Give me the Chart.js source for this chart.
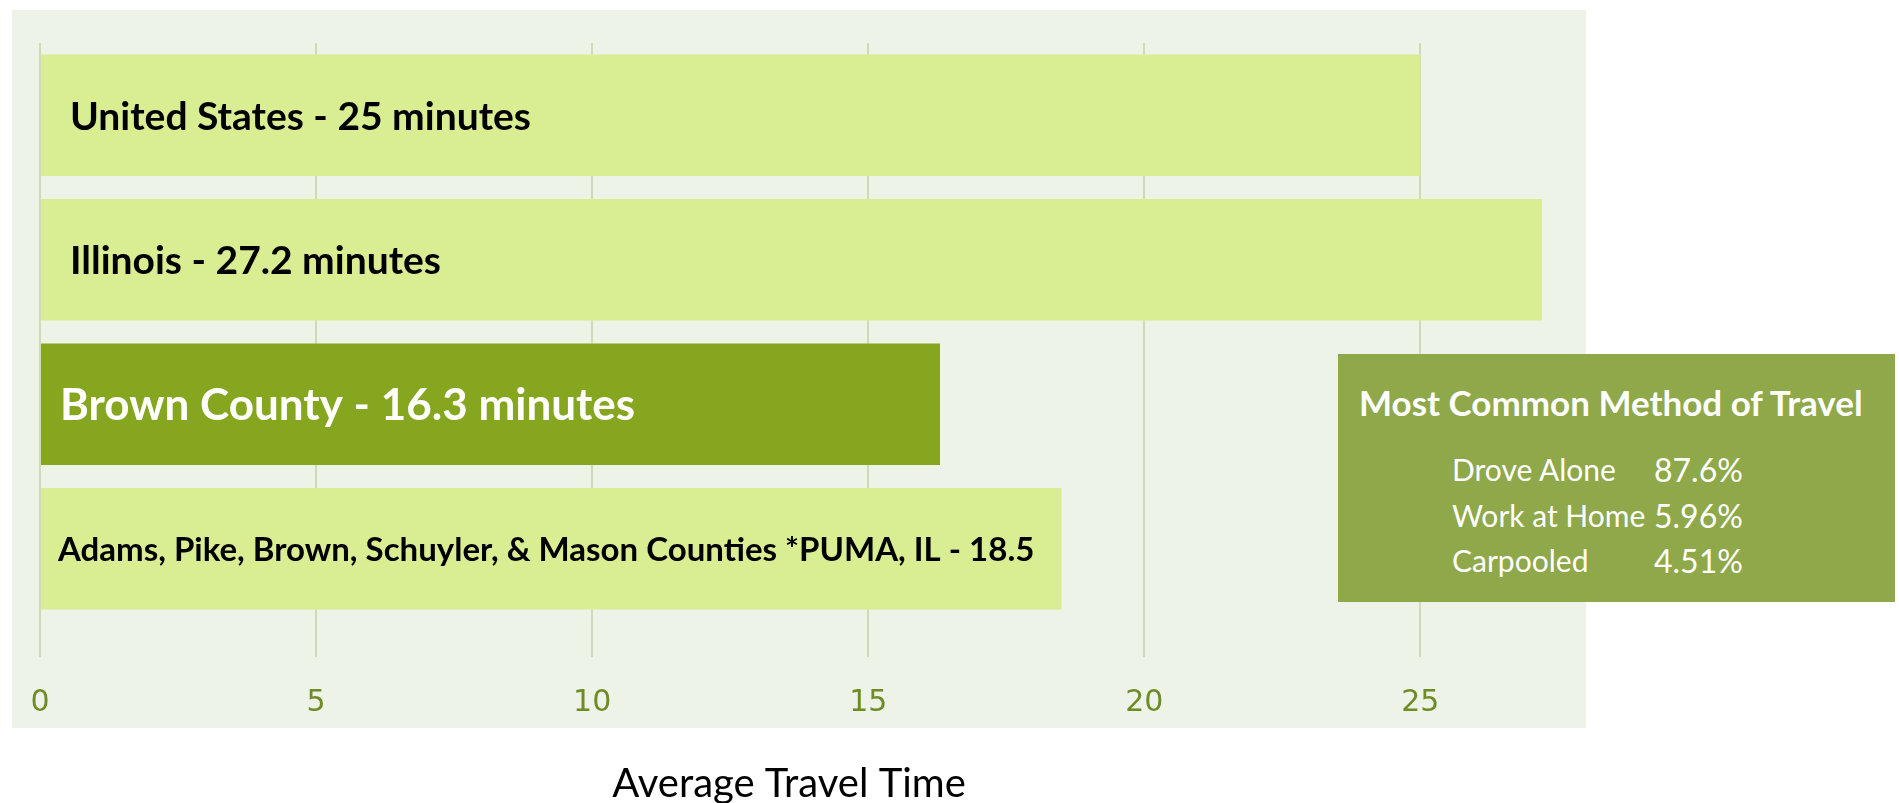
<!DOCTYPE html>
<html>
<head>
<meta charset="utf-8">
<script src="https://cdn.jsdelivr.net/npm/chart.js@4.4.0/dist/chart.umd.min.js"></script>
<style>
html, body { margin: 0; padding: 0; background: #ffffff; }
#wrap { position: relative; width: 1899px; height: 803px; overflow: hidden; }
#travelChart { position: absolute; left: 0; top: 0; }
#methodBox {
	position: absolute; left: 1338px; top: 354px; width: 557px; height: 248px;
	background: #8FA84A; color: #ffffff; font-family: Lato, "Open Sans", sans-serif;
}
#methodBox .title { position: absolute; left: 21px; top: 27px; font-size: 35px; font-weight: bold; white-space: nowrap; }
#methodBox .row { position: absolute; left: 114px; font-size: 30px; white-space: nowrap; }
#methodBox .row span { position: absolute; left: 202px; font-size: 32px; top: -1px; }
</style>
</head>
<body>
<div id="wrap">
	<canvas id="travelChart" width="1899" height="803"></canvas>
	<div id="methodBox"></div>
</div>
<script>
// 数据
var places = ["United States", "Illinois", "Brown County", "Adams, Pike, Brown, Schuyler, & Mason Counties *PUMA, IL"];
var travelMinutes = [25, 27.2, 16.3, 18.5];
var barLabels = ["United States - 25 minutes", "Illinois - 27.2 minutes", "Brown County - 16.3 minutes", "Adams, Pike, Brown, Schuyler, & Mason Counties *PUMA, IL - 18.5"];
var xTicks = [0, 5, 10, 15, 20, 25];
var methodTitle = "Most Common Method of Travel";
var methodNames = ["Drove Alone", "Work at Home", "Carpooled"];
var methodShares = ["87.6%", "5.96%", "4.51%"];
var axisTitle = "Average Travel Time";

// 样式
var lightBar = "#D9ED92";
var darkBar = "#87A61F";
var labelStyles = [
	{font: "bold 39px Lato", color: "#000000", indent: 30},
	{font: "bold 39px Lato", color: "#000000", indent: 30},
	{font: "bold 44px Lato", color: "#ffffff", indent: 20},
	{font: "bold 33px Lato", color: "#000000", indent: 18}
];

//右侧方框
var box = document.getElementById("methodBox");
var html = '<div class="title">' + methodTitle + '</div>';
for (var i = 0; i < methodNames.length; i++) {
	html += '<div class="row" style="top:' + (97 + i * 45.5) + 'px">' + methodNames[i] + '<span>' + methodShares[i] + '</span></div>';
}
box.innerHTML = html;

//背景面板
var panelPlugin = {
	id: "panel",
	beforeDraw: function(chart) {
		var ctx = chart.ctx, a = chart.chartArea;
		ctx.save();
		ctx.fillStyle = "#EEF3E7";
		ctx.fillRect(a.left - 28, a.top - 33, a.right - a.left + 28, a.bottom - a.top + 140);
		ctx.restore();
	}
};

//柱内文字和横轴标题
var textPlugin = {
	id: "barText",
	afterDatasetsDraw: function(chart) {
		var ctx = chart.ctx, a = chart.chartArea;
		var meta = chart.getDatasetMeta(0);
		ctx.save();
		ctx.textBaseline = "middle";
		ctx.textAlign = "left";
		meta.data.forEach(function(bar, i) {
			var s = labelStyles[i];
			ctx.font = s.font;
			ctx.fillStyle = s.color;
			ctx.fillText(barLabels[i], a.left + s.indent, bar.y + 2);
		});
		ctx.font = "40px Lato";
		ctx.fillStyle = "#000000";
		ctx.textAlign = "center";
		ctx.fillText(axisTitle, (a.left - 28 + a.right) / 2 - 10, 784);
		ctx.restore();
	}
};

var chart = new Chart(document.getElementById("travelChart").getContext("2d"), {
	type: "bar",
	data: {
		labels: places,
		datasets: [{
			data: travelMinutes,
			backgroundColor: travelMinutes.map(function(v, i) { return i == 2 ? darkBar : lightBar; }),
			barPercentage: 0.84,
			categoryPercentage: 1
		}]
	},
	options: {
		indexAxis: "y",
		responsive: false,
		animation: false,
		layout: { padding: { left: 40, right: 313, top: 43, bottom: 54 } },
		plugins: { legend: { display: false }, tooltip: { enabled: false } },
		scales: {
			x: {
				min: 0,
				max: 28,
				afterBuildTicks: function(scale) { scale.ticks = xTicks.map(function(v) { return {value: v}; }); },
				grid: { color: "rgba(200,212,170,0.8)", lineWidth: 2, tickLength: 36 },
				border: { display: false },
				ticks: { color: "#6E8B25", font: { family: "DejaVu Sans", size: 30 }, padding: 28 }
			},
			y: { display: false }
		}
	},
	plugins: [panelPlugin, textPlugin]
});
</script>
</body>
</html>
